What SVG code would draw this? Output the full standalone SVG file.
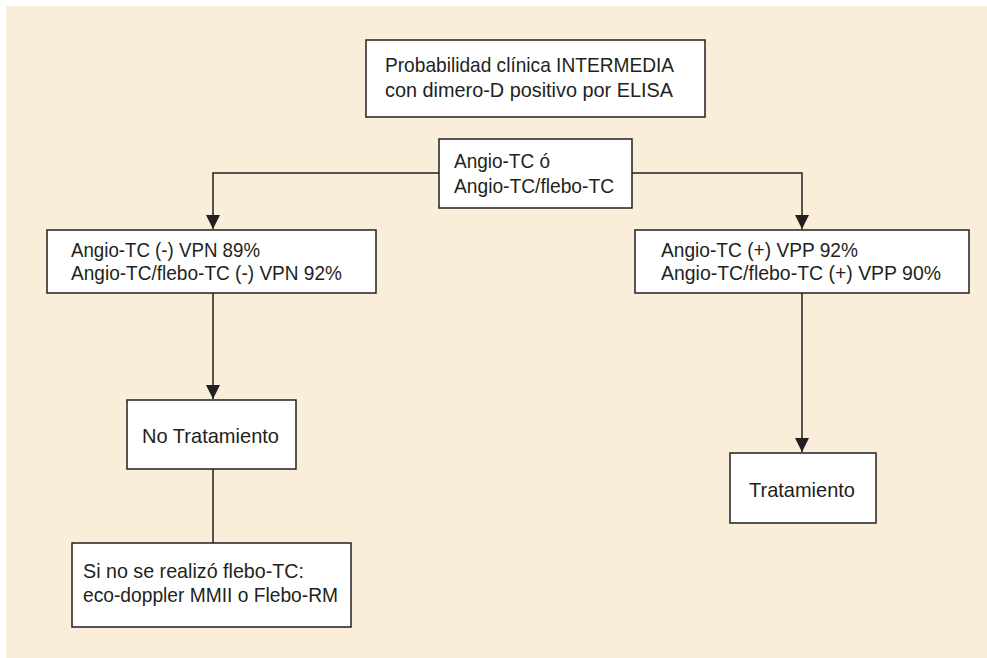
<svg xmlns="http://www.w3.org/2000/svg" width="987" height="658" viewBox="0 0 987 658">
<defs>
<style>
.box{fill:#ffffff;stroke:#231f20;stroke-width:1.5}
.t{font-family:"Liberation Sans",Arial,sans-serif;font-size:21px;fill:#231f20}
.ln{fill:none;stroke:#231f20;stroke-width:1.5}
</style>
<marker id="ah" markerUnits="userSpaceOnUse" markerWidth="14" markerHeight="14" viewBox="0 0 14 14" refX="14" refY="7" orient="auto">
<path d="M0,0 L14,7 L0,14 z" fill="#231f20"/>
</marker>
</defs>
<rect x="0" y="0" width="987" height="658" fill="#ffffff"/>
<rect x="6" y="6" width="981" height="652" fill="#faeeda"/>
<g id="connectors">
<path class="ln" d="M439,173 H213 V229" marker-end="url(#ah)"/>
<path class="ln" d="M632,173 H802 V229" marker-end="url(#ah)"/>
<path class="ln" d="M213,293 V399" marker-end="url(#ah)"/>
<path class="ln" d="M802,293 V452" marker-end="url(#ah)"/>
<path class="ln" d="M213,469 V543"/>
</g>
<g id="n1">
<rect class="box" x="366" y="40" width="339" height="77"/>
<text class="t" x="385" y="72" textLength="289" lengthAdjust="spacingAndGlyphs">Probabilidad clínica INTERMEDIA</text>
<text class="t" x="385" y="97" textLength="288" lengthAdjust="spacingAndGlyphs">con dimero-D positivo por ELISA</text>
</g>
<g id="n2">
<rect class="box" x="439" y="139" width="193" height="69"/>
<text class="t" x="454" y="168" textLength="96" lengthAdjust="spacingAndGlyphs">Angio-TC ó</text>
<text class="t" x="454" y="193" textLength="160" lengthAdjust="spacingAndGlyphs">Angio-TC/flebo-TC</text>
</g>
<g id="n3">
<rect class="box" x="47" y="230" width="329" height="63"/>
<text class="t" x="71" y="257" textLength="189" lengthAdjust="spacingAndGlyphs">Angio-TC (-) VPN 89%</text>
<text class="t" x="71" y="280" textLength="271" lengthAdjust="spacingAndGlyphs">Angio-TC/flebo-TC (-) VPN 92%</text>
</g>
<g id="n4">
<rect class="box" x="635" y="230" width="334" height="63"/>
<text class="t" x="661" y="257" textLength="197" lengthAdjust="spacingAndGlyphs">Angio-TC (+) VPP 92%</text>
<text class="t" x="661" y="280" textLength="280" lengthAdjust="spacingAndGlyphs">Angio-TC/flebo-TC (+) VPP 90%</text>
</g>
<g id="n5">
<rect class="box" x="127" y="400" width="169" height="69"/>
<text class="t" x="142" y="443" textLength="137" lengthAdjust="spacingAndGlyphs">No Tratamiento</text>
</g>
<g id="n6">
<rect class="box" x="730" y="453" width="146" height="70"/>
<text class="t" x="749" y="497" textLength="106" lengthAdjust="spacingAndGlyphs">Tratamiento</text>
</g>
<g id="n7">
<rect class="box" x="72" y="543" width="279" height="84"/>
<text class="t" x="83" y="578" textLength="221" lengthAdjust="spacingAndGlyphs">Si no se realizó flebo-TC:</text>
<text class="t" x="83" y="602" textLength="255" lengthAdjust="spacingAndGlyphs">eco-doppler MMII o Flebo-RM</text>
</g>
</svg>
